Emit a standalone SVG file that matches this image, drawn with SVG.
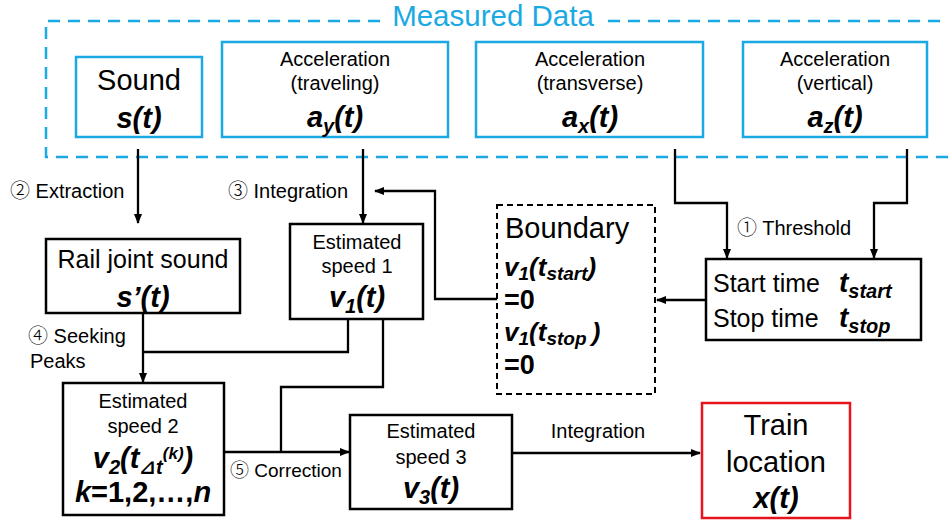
<svg xmlns="http://www.w3.org/2000/svg" width="952" height="522" viewBox="0 0 952 522">
<style>
text{font-family:"Liberation Sans","DejaVu Sans",Arial,sans-serif;fill:#000}
.blue{fill:none;stroke:#1BA9E3;stroke-width:2.5}
.box{fill:none;stroke:#000;stroke-width:2.5}
.dash{fill:none;stroke:#000;stroke-width:2;stroke-dasharray:6 4}
.red{fill:none;stroke:#E8141B;stroke-width:2.5}
.c{text-anchor:middle}
.m{font-size:20px}
.b{font-weight:bold;font-style:italic;font-size:29px}
.s{font-size:20px}
.lbl{font-size:20px}
.cn{font-family:"Noto Sans CJK JP","DejaVu Sans",sans-serif;font-weight:300}
.conn path{fill:none;stroke:#000;stroke-width:2.3}
</style>
<defs>
<marker id="ah" markerWidth="10" markerHeight="10" refX="9" refY="5" orient="auto" markerUnits="userSpaceOnUse">
<path d="M0,1 L10,5 L0,9 Z" fill="#000"/>
</marker>
</defs>

<g id="measured">
<path d="M380,21 H46 V157 H948 M608,21 H948" fill="none" stroke="#1BA9E3" stroke-width="2.5" stroke-dasharray="12 8"/>
<text x="493" y="26" class="c" style="font-size:29.5px;fill:#1BA9E3">Measured Data</text>
</g>

<g id="sound">
<rect x="76" y="57" width="126" height="80" class="blue"/>
<text x="139" y="90" class="c" style="font-size:29px">Sound</text>
<text x="139" y="128" class="c b">s(t)</text>
</g>

<g id="ay">
<rect x="222" y="42" width="226" height="95" class="blue"/>
<text x="335" y="66" class="c m">Acceleration</text>
<text x="335" y="90" class="c m">(traveling)</text>
<text x="335" y="127" class="c b">a<tspan dy="6" class="s">y</tspan><tspan dy="-6">(t)</tspan></text>
</g>

<g id="ax">
<rect x="476" y="42" width="227" height="95" class="blue"/>
<text x="590" y="66" class="c m">Acceleration</text>
<text x="590" y="90" class="c m">(transverse)</text>
<text x="590" y="127" class="c b">a<tspan dy="6" class="s">x</tspan><tspan dy="-6">(t)</tspan></text>
</g>

<g id="az">
<rect x="743" y="42" width="184" height="95" class="blue"/>
<text x="835" y="66" class="c m">Acceleration</text>
<text x="835" y="90" class="c m">(vertical)</text>
<text x="835" y="127" class="c b">a<tspan dy="6" class="s">z</tspan><tspan dy="-6">(t)</tspan></text>
</g>

<g id="railjoint">
<rect x="46" y="239" width="194" height="74" class="box"/>
<text x="143" y="268" class="c" style="font-size:25px">Rail joint sound</text>
<text x="143" y="307" class="c b">s’(t)</text>
</g>

<g id="speed1">
<rect x="290" y="224" width="133" height="95" class="box"/>
<text x="357" y="249" class="c m">Estimated</text>
<text x="357" y="273" class="c m">speed 1</text>
<text x="357" y="307" class="c b">v<tspan dy="6" class="s">1</tspan><tspan dy="-6">(t)</tspan></text>
</g>

<g id="boundary">
<rect x="497" y="205" width="158" height="189" class="dash"/>
<text x="505" y="238" style="font-size:29px">Boundary</text>
<text x="504" y="276" class="b" style="font-size:26px">v<tspan dy="4" style="font-size:19px">1</tspan><tspan dy="-4">(t</tspan><tspan dy="4" style="font-size:19px">start</tspan><tspan dy="-4">)</tspan></text>
<text x="504" y="309" class="b" style="font-size:27px;font-style:normal">=0</text>
<text x="504" y="341" class="b" style="font-size:26px">v<tspan dy="4" style="font-size:19px">1</tspan><tspan dy="-4">(t</tspan><tspan dy="4" style="font-size:19px">stop </tspan><tspan dy="-4">)</tspan></text>
<text x="504" y="374" class="b" style="font-size:27px;font-style:normal">=0</text>
</g>

<g id="startstop">
<rect x="706" y="259" width="215" height="81" class="box"/>
<text x="713" y="292" style="font-size:25px">Start time</text>
<text x="839" y="292" class="b" style="font-size:28px">t<tspan dy="6" class="s">start</tspan></text>
<text x="713" y="327" style="font-size:25px">Stop time</text>
<text x="839" y="327" class="b" style="font-size:28px">t<tspan dy="6" class="s">stop</tspan></text>
</g>

<g id="speed2">
<rect x="63" y="383" width="161" height="132" class="box"/>
<text x="143" y="408" class="c m">Estimated</text>
<text x="143" y="433" class="c m">speed 2</text>
<text x="143" y="468" class="c b">v<tspan dy="6" class="s">2</tspan><tspan dy="-6">(t</tspan><tspan dy="6" class="s">⊿t</tspan><tspan dy="-15" style="font-size:17px">(k)</tspan><tspan dy="9">)</tspan></text>
<text x="143" y="502" class="c b">k<tspan style="font-style:normal">=1,2,…,</tspan>n</text>
</g>

<g id="speed3">
<rect x="350" y="415" width="162" height="94" class="box"/>
<text x="431" y="438" class="c m">Estimated</text>
<text x="431" y="464" class="c m">speed 3</text>
<text x="431" y="498" class="c b">v<tspan dy="6" class="s">3</tspan><tspan dy="-6">(t)</tspan></text>
</g>

<g id="location">
<rect x="702" y="403" width="148" height="115" class="red"/>
<text x="776" y="435" class="c" style="font-size:29px">Train</text>
<text x="776" y="472" class="c" style="font-size:29px">location</text>
<text x="776" y="508" class="c b">x(t)</text>
</g>

<g id="connectors" class="conn">
<path d="M138,149 V223" marker-end="url(#ah)"/>
<path d="M363,149 V223" marker-end="url(#ah)"/>
<path d="M675,149 V203 H727 V258" marker-end="url(#ah)"/>
<path d="M907,149 V203 H874 V258" marker-end="url(#ah)"/>
<path d="M706,300 H657" marker-end="url(#ah)"/>
<path d="M497,299 H435 V191 H375" marker-end="url(#ah)"/>
<path d="M143,313 V382" marker-end="url(#ah)"/>
<path d="M348,319 V352 H143"/>
<path d="M383,319 V387 H281 V452"/>
<path d="M224,452 H349" marker-end="url(#ah)"/>
<path d="M512,453 H700" marker-end="url(#ah)"/>
</g>

<g id="labels" class="lbl">
<text x="10" y="198"><tspan class="cn">②</tspan> Extraction</text>
<text x="228" y="198"><tspan class="cn">③</tspan> Integration</text>
<text x="737" y="235"><tspan class="cn">①</tspan> Threshold</text>
<text x="28" y="343"><tspan class="cn">④</tspan> Seeking</text>
<text x="30" y="368">Peaks</text>
<text x="230" y="477" style="font-size:19px"><tspan class="cn">⑤</tspan> Correction</text>
<text x="598" y="438" class="c">Integration</text>
</g>
</svg>
